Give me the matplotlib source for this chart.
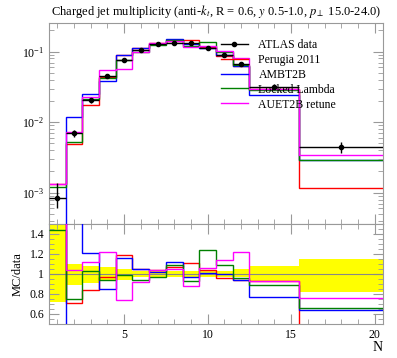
#!/usr/bin/env python3
"""
Charged jet multiplicity: ATLAS data vs Pythia tunes, with MC/data ratio panel.
"""

import matplotlib.pyplot as plt
import numpy as np
from matplotlib.lines import Line2D
from matplotlib.ticker import FixedLocator, MultipleLocator, NullFormatter

plt.rcParams["font.family"] = ["Liberation Serif", "DejaVu Serif"]
plt.rcParams["mathtext.fontset"] = "stix"

# Bin edges (N)
edges = [0.5, 1.5, 2.5, 3.5, 4.5, 5.5, 6.5, 7.5, 8.5, 9.5, 10.5, 11.5, 12.5, 15.5, 20.5]

# ATLAS data and relative uncertainties
data = [8.5e-4, 0.0070, 0.0206, 0.0457, 0.0762, 0.106, 0.127, 0.134,
        0.131, 0.112, 0.090, 0.067, 0.0319, 0.0045]
rel_up = [0.60, 0.10, 0.08, 0.065, 0.045, 0.03, 0.025, 0.025,
          0.025, 0.035, 0.03, 0.045, 0.08, 0.15]
rel_down = [0.28, 0.11, 0.09, 0.07, 0.065, 0.035, 0.03, 0.03,
            0.03, 0.035, 0.03, 0.03, 0.08, 0.18]

# MC predictions
perugia = [1.33e-3, 0.00497, 0.0173, 0.0443, 0.0907, 0.111, 0.132, 0.143,
           0.145, 0.116, 0.086, 0.063, 0.0297, 0.00117]
ambt2b = [1.0e-4, 0.0120, 0.0249, 0.0388, 0.0884, 0.111, 0.130, 0.150,
          0.127, 0.113, 0.090, 0.063, 0.0246, 0.00288]
locked = [1.22e-3, 0.00522, 0.0212, 0.0430, 0.0754, 0.0996, 0.123, 0.146,
          0.122, 0.139, 0.0977, 0.064, 0.0284, 0.00295]
auet2b = [1.33e-3, 0.00728, 0.0231, 0.0558, 0.0564, 0.0975, 0.132, 0.141,
          0.115, 0.119, 0.1026, 0.0817, 0.0297, 0.00342]

models = [
    ("Perugia 2011", perugia, "#ff0000"),
    ("AMBT2B", ambt2b, "#0000ff"),
    ("Locked Lambda", locked, "#008000"),
    ("AUET2B retune", auet2b, "#ff00ff"),
]

edges = np.array(edges)
data = np.array(data)
centers = 0.5 * (edges[:-1] + edges[1:])
half_w = 0.5 * (edges[1:] - edges[:-1])
err_lo = data * np.array(rel_down)
err_hi = data * np.array(rel_up)

frame_col = "#999999"

fig = plt.figure(figsize=(3.97, 3.58), dpi=100)
ax = fig.add_axes([0.1234, 0.3743, 0.8413, 0.5615])
rax = fig.add_axes([0.1234, 0.095, 0.8413, 0.2793], sharex=ax)

# Main panel
handles = [Line2D([], [], color="black", marker="o", markersize=3,
                  linewidth=1.0)]
labels = ["ATLAS data"]
for label, vals, col in models:
    ax.stairs(vals, edges, baseline=None, color=col, linewidth=1.0)
    handles.append(Line2D([], [], color=col, linewidth=1.0))
    labels.append(label)
ax.errorbar(centers, data, xerr=half_w, yerr=[err_lo, err_hi], fmt="o",
            color="black", markersize=3, linewidth=1.0, capsize=0, zorder=5)

ax.set_yscale("log")
ax.set_xlim(0.5, 20.5)
ax.set_ylim(3.6e-4, 0.255)
ax.set_title(r"Charged jet multiplicity (anti-$k_t$, R = 0.6, $y$ 0.5-1.0, $p_\perp$ 15.0-24.0)",
             fontsize=9, pad=6)

ax.legend(handles, labels, loc="upper left", bbox_to_anchor=(0.5, 0.945),
          frameon=False, fontsize=8.5, handlelength=2.3, handletextpad=0.9,
          labelspacing=0.25, borderaxespad=0.0)

# Ratio panel
lo_band = 1 - np.array(rel_down)
hi_band = 1 + np.array(rel_up)
rax.stairs(hi_band, edges, baseline=lo_band, fill=True, color="#ffff00",
           linewidth=0, zorder=1)
rax.axhline(1.0, color="#888888", linewidth=0.8, zorder=2)
for label, vals, col in models:
    rax.stairs(np.array(vals) / data, edges, baseline=None, color=col,
               linewidth=1.0, zorder=3)

rax.set_ylim(0.5, 1.5)
rax.set_ylabel("MC/data", fontsize=9)
rax.set_xlabel("N", fontsize=10, loc="right", labelpad=0)
rax.yaxis.set_major_locator(FixedLocator([0.6, 0.8, 1.0, 1.2, 1.4]))
rax.set_yticklabels(["0.6", "0.8", "1", "1.2", "1.4"])
rax.yaxis.set_minor_locator(MultipleLocator(0.05))

for a in (ax, rax):
    a.xaxis.set_major_locator(FixedLocator([5, 10, 15, 20]))
    a.xaxis.set_minor_locator(MultipleLocator(1))
    a.tick_params(which="both", direction="in", top=True, right=True,
                  color=frame_col, labelsize=8.5)
    a.tick_params(which="major", length=7, width=0.8)
    a.tick_params(which="minor", length=3.5, width=0.6)
    for s in a.spines.values():
        s.set_color(frame_col)
        s.set_linewidth(0.8)

ax.tick_params(axis="x", labelbottom=False)
ax.yaxis.set_minor_formatter(NullFormatter())

fig.savefig("out.png", dpi=100)
